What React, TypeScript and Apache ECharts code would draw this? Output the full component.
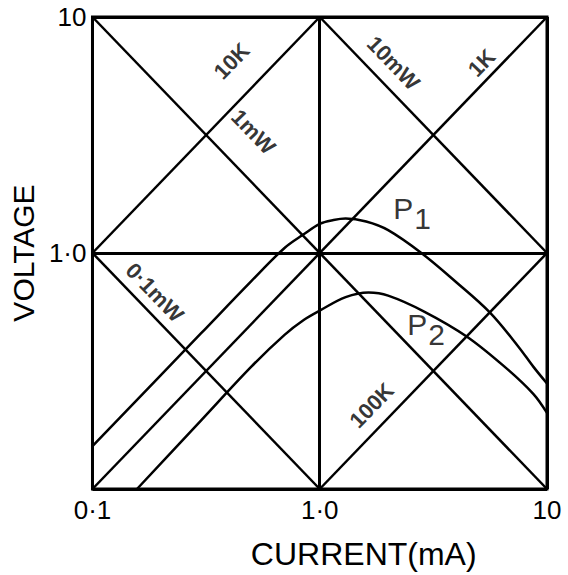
import React, { useEffect, useRef } from "react";
import * as echarts from "echarts";

// Axis ticks (decades) and their printed labels
const currentTicks = [0.1, 1, 10];
const currentTickLabels = ["0·1", "1·0", "10"];
const voltageTicks = [0.1, 1, 10];
const voltageTickLabels = ["", "1·0", "10"];

// Load lines (constant resistance), endpoints as [current mA, voltage V]
const load10K = [[0.1, 1], [1, 10]];
const load1K = [[0.1, 0.1], [10, 10]];
const load100K = [[1, 0.1], [10, 1]];

// Constant-power hyperbolae, endpoints as [current mA, voltage V]
const power10mW = [[1, 10], [10, 1]];
const power1mW = [[0.1, 10], [10, 0.1]];
const power01mW = [[0.1, 1], [1, 0.1]];

// Device characteristic P1
const p1Current = [0.1, 0.3, 0.5, 0.7, 0.85, 1.0, 1.15, 1.3, 1.6, 2.0, 2.8, 4.0, 5.6, 7.5, 8.7, 10];
const p1Voltage = [0.152, 0.456, 0.76, 1.05, 1.2, 1.33, 1.38, 1.4, 1.36, 1.25, 1.0, 0.75, 0.56, 0.4, 0.33, 0.28];

// Device characteristic P2
const p2Current = [0.157, 0.3, 0.5, 0.7, 0.85, 1.0, 1.3, 1.64, 2.0, 2.88, 4.43, 6.5, 8.7, 10];
const p2Voltage = [0.1, 0.195, 0.33, 0.45, 0.52, 0.57, 0.65, 0.68, 0.66, 0.565, 0.443, 0.33, 0.253, 0.21];

// Annotation texts and where they sit, [current, voltage, rotation]
const annotationTexts = ["10K", "1mW", "10mW", "1K", "0·1mW", "100K"];
const annotationAnchors = [
  [0.41, 6.5, 46],
  [0.51, 3.26, -46],
  [2.11, 6.38, -46],
  [5.16, 6.38, 46],
  [0.188, 0.68, -46],
  [1.69, 0.226, 46],
];
const curveNames = ["P1", "P2"];
const curveNameAnchors = [
  [2.55, 1.47],
  [2.94, 0.472],
];

const FONT = "'Liberation Sans', 'DejaVu Sans', Arial, sans-serif";
const INK = "#000";

const zip = (xs: number[], ys: number[]) => xs.map((x, i) => [x, ys[i]]);

const tickLabel = (ticks: number[], labels: string[]) => (v: number) => {
  const i = ticks.findIndex((t) => Math.abs(Math.log10(t) - Math.log10(v)) < 1e-6);
  return i >= 0 ? labels[i] : "";
};

const straight = (name: string, data: number[][]) => ({
  type: "line",
  name,
  data,
  symbol: "none",
  silent: true,
  lineStyle: { color: INK, width: 2.5 },
  z: 3,
});

export default function App() {
  const ref = useRef<HTMLDivElement>(null);

  useEffect(() => {
    if (!ref.current) return;
    const chart = echarts.init(ref.current, null, { renderer: "svg" });

    const option = {
      animation: false,
      backgroundColor: "#fff",
      grid: {
        left: 88,
        right: 21,
        top: 11,
        bottom: 83,
        show: true,
        borderColor: INK,
        borderWidth: 3,
        backgroundColor: "transparent",
      },
      xAxis: {
        type: "log",
        logBase: 10,
        min: 0.1,
        max: 10,
        axisLine: { show: false },
        axisTick: { show: false },
        splitLine: { show: true, lineStyle: { color: INK, width: 3 } },
        axisLabel: {
          formatter: tickLabel(currentTicks, currentTickLabels),
          fontSize: 26,
          color: INK,
          fontFamily: FONT,
          margin: 8,
          showMinLabel: true,
          showMaxLabel: true,
        },
        name: "CURRENT(mA)",
        nameLocation: "middle",
        nameGap: 49,
        nameTextStyle: {
          fontSize: 32,
          color: INK,
          fontFamily: FONT,
          padding: [0, 0, 0, 88],
        },
      },
      yAxis: {
        type: "log",
        logBase: 10,
        min: 0.1,
        max: 10,
        axisLine: { show: false },
        axisTick: { show: false },
        splitLine: { show: true, lineStyle: { color: INK, width: 3 } },
        axisLabel: {
          formatter: tickLabel(voltageTicks, voltageTickLabels),
          fontSize: 26,
          lineHeight: 26,
          color: INK,
          fontFamily: FONT,
          margin: 6,
          padding: [8, 0, 0, 0],
          showMinLabel: true,
          showMaxLabel: true,
        },
        name: "VOLTAGE",
        nameLocation: "middle",
        nameRotate: 90,
        nameGap: 50,
        nameTextStyle: { fontSize: 30, color: INK, fontFamily: FONT },
      },
      series: [
        straight("10K", load10K),
        straight("1K", load1K),
        straight("100K", load100K),
        straight("10mW", power10mW),
        straight("1mW", power1mW),
        straight("0.1mW", power01mW),
        {
          type: "line",
          name: "P1",
          data: zip(p1Current, p1Voltage),
          symbol: "none",
          smooth: 0.35,
          silent: true,
          lineStyle: { color: INK, width: 2.5 },
          z: 3,
        },
        {
          type: "line",
          name: "P2",
          data: zip(p2Current, p2Voltage),
          symbol: "none",
          smooth: 0.35,
          silent: true,
          lineStyle: { color: INK, width: 2.5 },
          z: 3,
        },
        {
          type: "scatter",
          name: "annotations",
          symbolSize: 0,
          silent: true,
          z: 5,
          data: annotationTexts.map((t, i) => ({
            value: [annotationAnchors[i][0], annotationAnchors[i][1]],
            label: {
              show: true,
              position: "inside",
              formatter: t,
              rotate: annotationAnchors[i][2],
              fontSize: 22,
              fontWeight: "bold",
              color: INK,
              fontFamily: FONT,
            },
          })),
        },
        {
          type: "scatter",
          name: "curve names",
          symbolSize: 0,
          silent: true,
          z: 5,
          data: curveNames.map((t, i) => ({
            value: curveNameAnchors[i],
            label: {
              show: true,
              position: "inside",
              formatter: `{p|${t[0]}}{s|${t.slice(1)}}`,
              rich: {
                p: { fontSize: 30, color: INK, fontFamily: FONT, lineHeight: 30, padding: [0, 1, 10, 0] },
                s: { fontSize: 30, color: INK, fontFamily: FONT, lineHeight: 30, padding: [10, 0, 0, 0] },
              },
            },
          })),
        },
      ],
    };

    chart.setOption(option as any);
    return () => chart.dispose();
  }, []);

  return (
    <div
      ref={ref}
      style={{ position: "fixed", left: 0, top: 0, width: 568, height: 575, background: "#fff" }}
    />
  );
}
